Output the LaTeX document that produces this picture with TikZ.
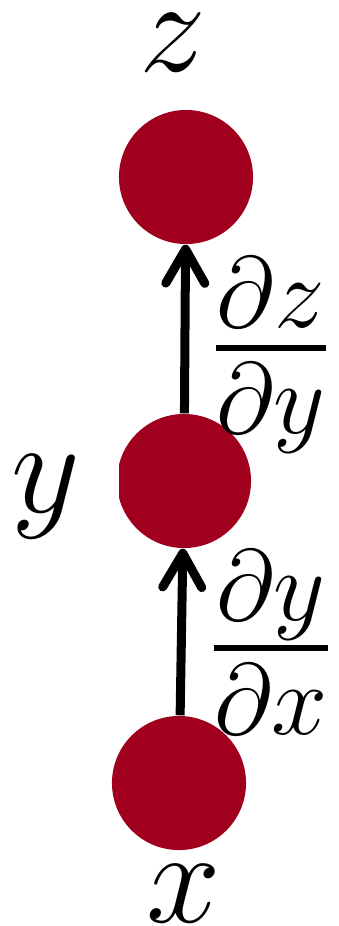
\RequirePackage{fix-cm}
\documentclass[tikz,border=0pt]{standalone}
\usepackage{amsmath,amssymb}
\usepackage{tikz}
\usetikzlibrary{arrows.meta,positioning}
\definecolor{nodered}{RGB}{160,0,30}

\begin{document}
\begin{tikzpicture}[x=0.01cm,y=-0.01cm,
  neuron/.style={circle,fill=nodered,minimum size=1.34cm,inner sep=0pt},
  lbl/.style={inner sep=0pt,font=\fontsize{38}{46}\selectfont},
  dlbl/.style={inner sep=0pt,font=\fontsize{41}{49}\selectfont},
  grad/.style={line width=0.09cm,-{Straight Barb[length=3.4mm,width=3.9mm,round]}}]
\useasboundingbox (0,0) rectangle (339,926);
\node[neuron] (z) at (186,177) {};
\node[neuron] (y) at (184,481) {};
\node[neuron] (x) at (179,783) {};
\node[lbl] (zlab) at (173,43) {\(z\)};
\node[lbl,fill=white,inner xsep=0.39cm] (ylab) at (46,497) {\(y\)};
\node[lbl] (xlab) at (184,894) {\(x\)};
\draw[grad] (x) -- (y);
\draw[grad] (y) -- (z);
\node[dlbl] (dzdy) at (271,355) {\(\frac{\partial z}{\partial y}\)};
\node[dlbl] (dydx) at (271,642) {\(\frac{\partial y}{\partial x}\)};
\end{tikzpicture}
\end{document}
